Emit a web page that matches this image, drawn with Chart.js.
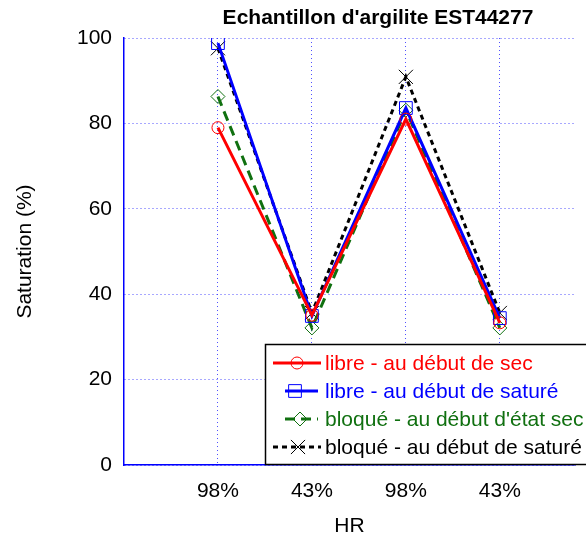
<!DOCTYPE html>
<html>
<head>
<meta charset="utf-8">
<script src="https://cdn.jsdelivr.net/npm/chart.js@4/dist/chart.umd.min.js"></script>
<style>
html,body{margin:0;padding:0;background:#fff;}
#wrap{width:586px;height:539px;position:relative;}
</style>
</head>
<body>
<div id="wrap"><canvas id="c" width="586" height="539"></canvas></div>
<script>
const categories = ["98%", "43%", "98%", "43%"];
const libreSec = [79, 35.1, 81, 33.3];
const libreSature = [98.8, 34.9, 83.6, 34.4];
const bloqueSec = [86.3, 32.1, 83.1, 32.1];
const bloqueSature = [97.6, 35.6, 90.9, 35.6];
const yTicks = [0, 20, 40, 60, 80, 100];
const seriesNames = ["libre - au début de sec", "libre - au début de saturé", "bloqué - au début d'état sec", "bloqué - au début de saturé"];
const chartTitle = "Echantillon d'argilite EST44277";

const RED = "rgb(255,0,0)", BLUE = "rgb(0,0,255)", GREEN = "rgb(16,112,16)", BLACK = "rgb(0,0,0)";
const FONT = "'Liberation Sans', Arial, sans-serif";

function pts(arr){ return arr.map((v,i)=>({x:i+1,y:v})); }

const datasets = [
  {label:seriesNames[0], data:pts(libreSec), borderColor:RED, borderWidth:3, pointStyle:'circle', pointRadius:6, pointBorderWidth:1, pointBackgroundColor:'transparent', pointBorderColor:RED},
  {label:seriesNames[1], data:pts(libreSature), borderColor:BLUE, borderWidth:3, pointStyle:'rect', pointRadius:9, pointBorderWidth:1, pointBackgroundColor:'transparent', pointBorderColor:BLUE},
  {label:seriesNames[2], data:pts(bloqueSec), borderColor:GREEN, borderWidth:3, borderDash:[10,6], pointStyle:'rectRot', pointRadius:7, pointBorderWidth:1, pointBackgroundColor:'transparent', pointBorderColor:GREEN},
  {label:seriesNames[3], data:pts(bloqueSature), borderColor:BLACK, borderWidth:3, borderDash:[5,4], pointStyle:'crossRot', pointRadius:10, pointBorderWidth:1, pointBackgroundColor:'transparent', pointBorderColor:BLACK}
];

const legendRows = [
  {y:363, x0:273, x1:321, xm:297},
  {y:391, x0:285, x1:318, xm:295},
  {y:419, x0:285, x1:318, xm:300},
  {y:447, x0:273, x1:321, xm:298}
];

const extras = {
  id:'extras',
  afterDatasetsDraw(chart){
    const ctx = chart.ctx, ca = chart.chartArea;
    ctx.save();
    ctx.font = "bold 21px " + FONT;
    ctx.fillStyle = "#000";
    ctx.textAlign = 'center';
    ctx.textBaseline = 'middle';
    ctx.fillText(chartTitle, 378, 18);
    const bx = 265, by = 344, bw = 330, bh = ca.bottom - 344;
    ctx.fillStyle = '#fff';
    ctx.fillRect(bx, by, bw, bh);
    ctx.strokeStyle = '#000';
    ctx.lineWidth = 1.5;
    ctx.setLineDash([]);
    ctx.strokeRect(bx+0.5, by+0.5, bw, bh-1);
    ctx.font = "21px " + FONT;
    ctx.textAlign = 'left';
    chart.data.datasets.forEach((ds,i)=>{
      const r = legendRows[i];
      ctx.strokeStyle = ds.borderColor;
      ctx.lineWidth = 3;
      ctx.setLineDash(ds.borderDash || []);
      ctx.beginPath(); ctx.moveTo(r.x0,r.y); ctx.lineTo(r.x1,r.y); ctx.stroke();
      ctx.setLineDash([]);
      ctx.lineWidth = 1;
      ctx.fillStyle = 'rgba(0,0,0,0)';
      Chart.helpers.drawPoint(ctx, {pointStyle:ds.pointStyle, radius:ds.pointRadius, borderWidth:1, rotation:0}, r.xm, r.y);
      ctx.fillStyle = ds.borderColor;
      ctx.fillText(ds.label, 325, r.y+1);
    });
    ctx.restore();
  }
};

new Chart(document.getElementById('c'), {
  type:'line',
  data:{datasets},
  options:{
    responsive:false,
    animation:false,
    layout:{padding:{top:38,left:0,right:0,bottom:0}},
    plugins:{legend:{display:false}, title:{display:false}, tooltip:{enabled:false}},
    scales:{
      x:{
        type:'linear', min:0, max:4.8, bounds:'data',
        afterBuildTicks(s){ s.ticks = categories.map((c,i)=>({value:i+1})); s.min = 0; s.max = 4.8; },
        afterFit(s){ s.height = 74; s.paddingRight = 0; s.paddingLeft = 0; },
        ticks:{callback:(v)=>categories[v-1] ?? '', font:{family:FONT,size:21}, color:'#000', padding:14, maxRotation:0, autoSkip:false},
        grid:{color:'rgba(50,50,255,0.85)', lineWidth:1, drawTicks:false},
        border:{color:'rgb(0,0,255)', width:1.5, dash:[1,3]},
        title:{display:true, text:'HR', font:{family:FONT,size:21}, color:'#000', padding:{top:0,bottom:0}}
      },
      y:{
        min:0, max:100,
        afterBuildTicks(s){ s.ticks = yTicks.map(v=>({value:v})); },
        afterFit(s){ s.width = 124; s.paddingTop = 0; s.paddingBottom = 0; },
        ticks:{font:{family:FONT,size:21}, color:'#000', padding:12},
        grid:{color:'rgba(50,50,255,0.85)', lineWidth:1, drawTicks:false},
        border:{color:'rgb(0,0,255)', width:1.5, dash:[1,3]},
        title:{display:true, text:'Saturation (%)', font:{family:FONT,size:21}, color:'#000', padding:{top:13,bottom:0}}
      }
    }
  },
  plugins:[extras]
});
</script>
</body>
</html>
